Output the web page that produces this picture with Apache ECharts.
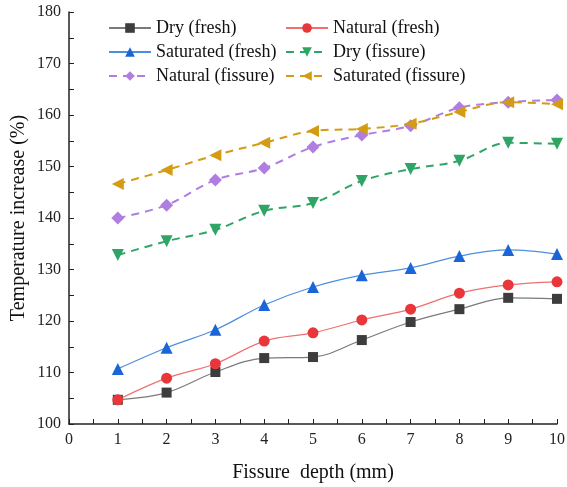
<!DOCTYPE html>
<html lang="en">
<head>
    <meta charset="UTF-8">
    <title>Fissure depth</title>
    <script type="text/javascript" src="https://cdn.jsdelivr.net/npm/echarts@6/dist/echarts.min.js"></script>
</head>
<body style="margin:0">
<div id="main" style="width: 567px; height:487px;"></div>

<script>
    var depth = [1, 2, 3, 4, 5, 6, 7, 8, 9, 10];
    var dryFresh = [104.7, 106.1, 110.1, 112.8, 113.0, 116.3, 119.8, 122.3, 124.5, 124.3];
    var naturalFresh = [104.7, 108.9, 111.7, 116.1, 117.7, 120.2, 122.3, 125.4, 127.0, 127.6];
    var saturatedFresh = [110.7, 114.8, 118.3, 123.1, 126.6, 128.9, 130.3, 132.6, 133.8, 133.0];
    var dryFissure = [132.8, 135.5, 137.7, 141.4, 142.9, 147.2, 149.5, 151.1, 154.6, 154.4];
    var naturalFissure = [140.0, 142.5, 147.4, 149.7, 153.8, 156.1, 157.9, 161.4, 162.5, 162.9];
    var saturatedFissure = [146.6, 149.3, 152.2, 154.6, 156.9, 157.3, 158.3, 160.6, 162.5, 162.1];

    var myChart = echarts.init(document.getElementById('main'));
    var font = 'Liberation Serif, Times New Roman, serif';

    function pairs(vals) {
        return depth.map(function (d, i) { return [d, vals[i]]; });
    }

    function mk(name, vals, symbol, rotate, size, mColor, lColor, dashed) {
        return {
            name: name,
            type: 'line',
            smooth: 0.35,
            data: pairs(vals),
            symbol: symbol,
            symbolRotate: rotate,
            symbolSize: size,
            itemStyle: {color: mColor},
            lineStyle: {color: lColor, width: dashed ? 2 : 1.2, type: dashed ? [8, 6] : 'solid'},
            z: 3
        };
    }

    var legendText = {fontFamily: font, fontSize: 18, color: '#111'};

    option = {
        animation: false,
        textStyle: {fontFamily: font},
        legend: [
            {
                orient: 'vertical', left: 103, top: 14, itemGap: 6,
                itemWidth: 42, itemHeight: 12, textStyle: legendText,
                data: ['Dry (fresh)', 'Saturated (fresh)', 'Natural (fissure)']
            },
            {
                orient: 'vertical', left: 280, top: 14, itemGap: 6,
                itemWidth: 42, itemHeight: 12, textStyle: legendText,
                data: ['Natural (fresh)', 'Dry (fissure)', 'Saturated (fissure)']
            }
        ],
        grid: {left: 69, right: 10, top: 12, bottom: 63, outerBoundsMode: 'none'},
        xAxis: {
            type: 'value', min: 0, max: 10, interval: 1,
            name: 'Fissure  depth (mm)', nameLocation: 'middle', nameGap: 39,
            nameTextStyle: {fontFamily: font, fontSize: 20, color: '#111'},
            axisLine: {onZero: false, lineStyle: {color: '#222', width: 1.5}},
            axisTick: {inside: true, length: 5, lineStyle: {color: '#222'}},
            minorTick: {show: true, splitNumber: 2, length: 5, lineStyle: {color: '#222'}},
            axisLabel: {fontFamily: font, fontSize: 16, color: '#222', margin: 8},
            splitLine: {show: false}
        },
        yAxis: {
            type: 'value', min: 100, max: 180, interval: 10,
            name: 'Temperature increase (%)', nameLocation: 'middle', nameGap: 40,
            nameMoveOverlap: false,
            nameTextStyle: {fontFamily: font, fontSize: 20, color: '#111'},
            axisLine: {show: true, onZero: false, lineStyle: {color: '#222', width: 1.5}},
            axisTick: {show: true, inside: true, length: 5, lineStyle: {color: '#222'}},
            minorTick: {show: true, splitNumber: 2, length: 5, lineStyle: {color: '#222'}},
            axisLabel: {fontFamily: font, fontSize: 16, color: '#222', margin: 8},
            splitLine: {show: false}
        },
        series: [
            mk('Dry (fresh)', dryFresh, 'rect', 0, 10, '#3d3d3d', '#7a7a7a', false),
            mk('Natural (fresh)', naturalFresh, 'circle', 0, 11, '#e8363a', '#ee7070', false),
            mk('Saturated (fresh)', saturatedFresh, 'triangle', 0, 12, '#1a66d8', '#4d8ee0', false),
            mk('Dry (fissure)', dryFissure, 'triangle', 180, 12, '#2fa565', '#2fa565', true),
            mk('Natural (fissure)', naturalFissure, 'diamond', 0, 13, '#b07ee0', '#b07ee0', true),
            mk('Saturated (fissure)', saturatedFissure, 'triangle', 90, 12, '#d49c12', '#d49c12', true)
        ]
    };

    myChart.setOption(option);
</script>
</body>
</html>
